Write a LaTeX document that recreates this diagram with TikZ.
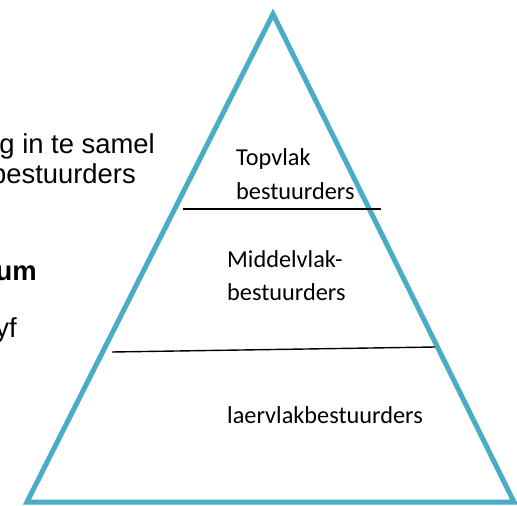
\documentclass[tikz,border=0pt]{standalone}
\usepackage{fontspec}
\setmainfont{Carlito}
\newfontfamily\arialfont{Liberation Sans}
\definecolor{pyrblue}{HTML}{4BACC6}
\begin{document}
\begin{tikzpicture}[x=1pt,y=-1pt,
  tri/.style={draw=pyrblue,line width=5pt,line join=miter},
  divider/.style={draw=black,line width=1.4pt},
  lbl/.style={inner sep=0pt,anchor=base west,font=\fontsize{24.3}{29}\selectfont},
  side/.style={inner sep=0pt,anchor=base east,font=\arialfont\fontsize{27.4}{32}\selectfont},
  sidebold/.style={side,font=\arialfont\bfseries\fontsize{27.4}{32}\selectfont}]
\useasboundingbox (0,0) rectangle (517,506);
\clip (0,0) rectangle (517,506);
\fill[white] (0,0) rectangle (517,506);
% left cut-off text
\node[side] (s1) at (155,153) {g in te samel};
\node[side] (s2) at (136,183) {bestuurders};
\node[sidebold] (s3) at (37,280) {um};
\node[side] (s4) at (17,337) {yf};
% triangle
\coordinate (apex) at (273,14);
\coordinate (br) at (514,502);
\coordinate (bl) at (27,502);
\draw[tri] (apex) -- (br) -- (bl) -- cycle;
% dividers
\coordinate (d1l) at (183,209);
\coordinate (d1r) at (381,209);
\coordinate (d2l) at (112,352);
\coordinate (d2r) at (435,347);
\draw[divider] (d1l) -- (d1r);
\draw[divider] (d2l) -- (d2r);
% labels
\node[lbl] (t1) at (236,165) {Topvlak};
\node[lbl] (t2) at (236,199) {bestuurders};
\node[lbl] (m1) at (227,267) {Middelvlak-};
\node[lbl] (m2) at (227,300) {bestuurders};
\node[lbl] (l1) at (227,423) {laervlakbestuurders};
\end{tikzpicture}
\end{document}
